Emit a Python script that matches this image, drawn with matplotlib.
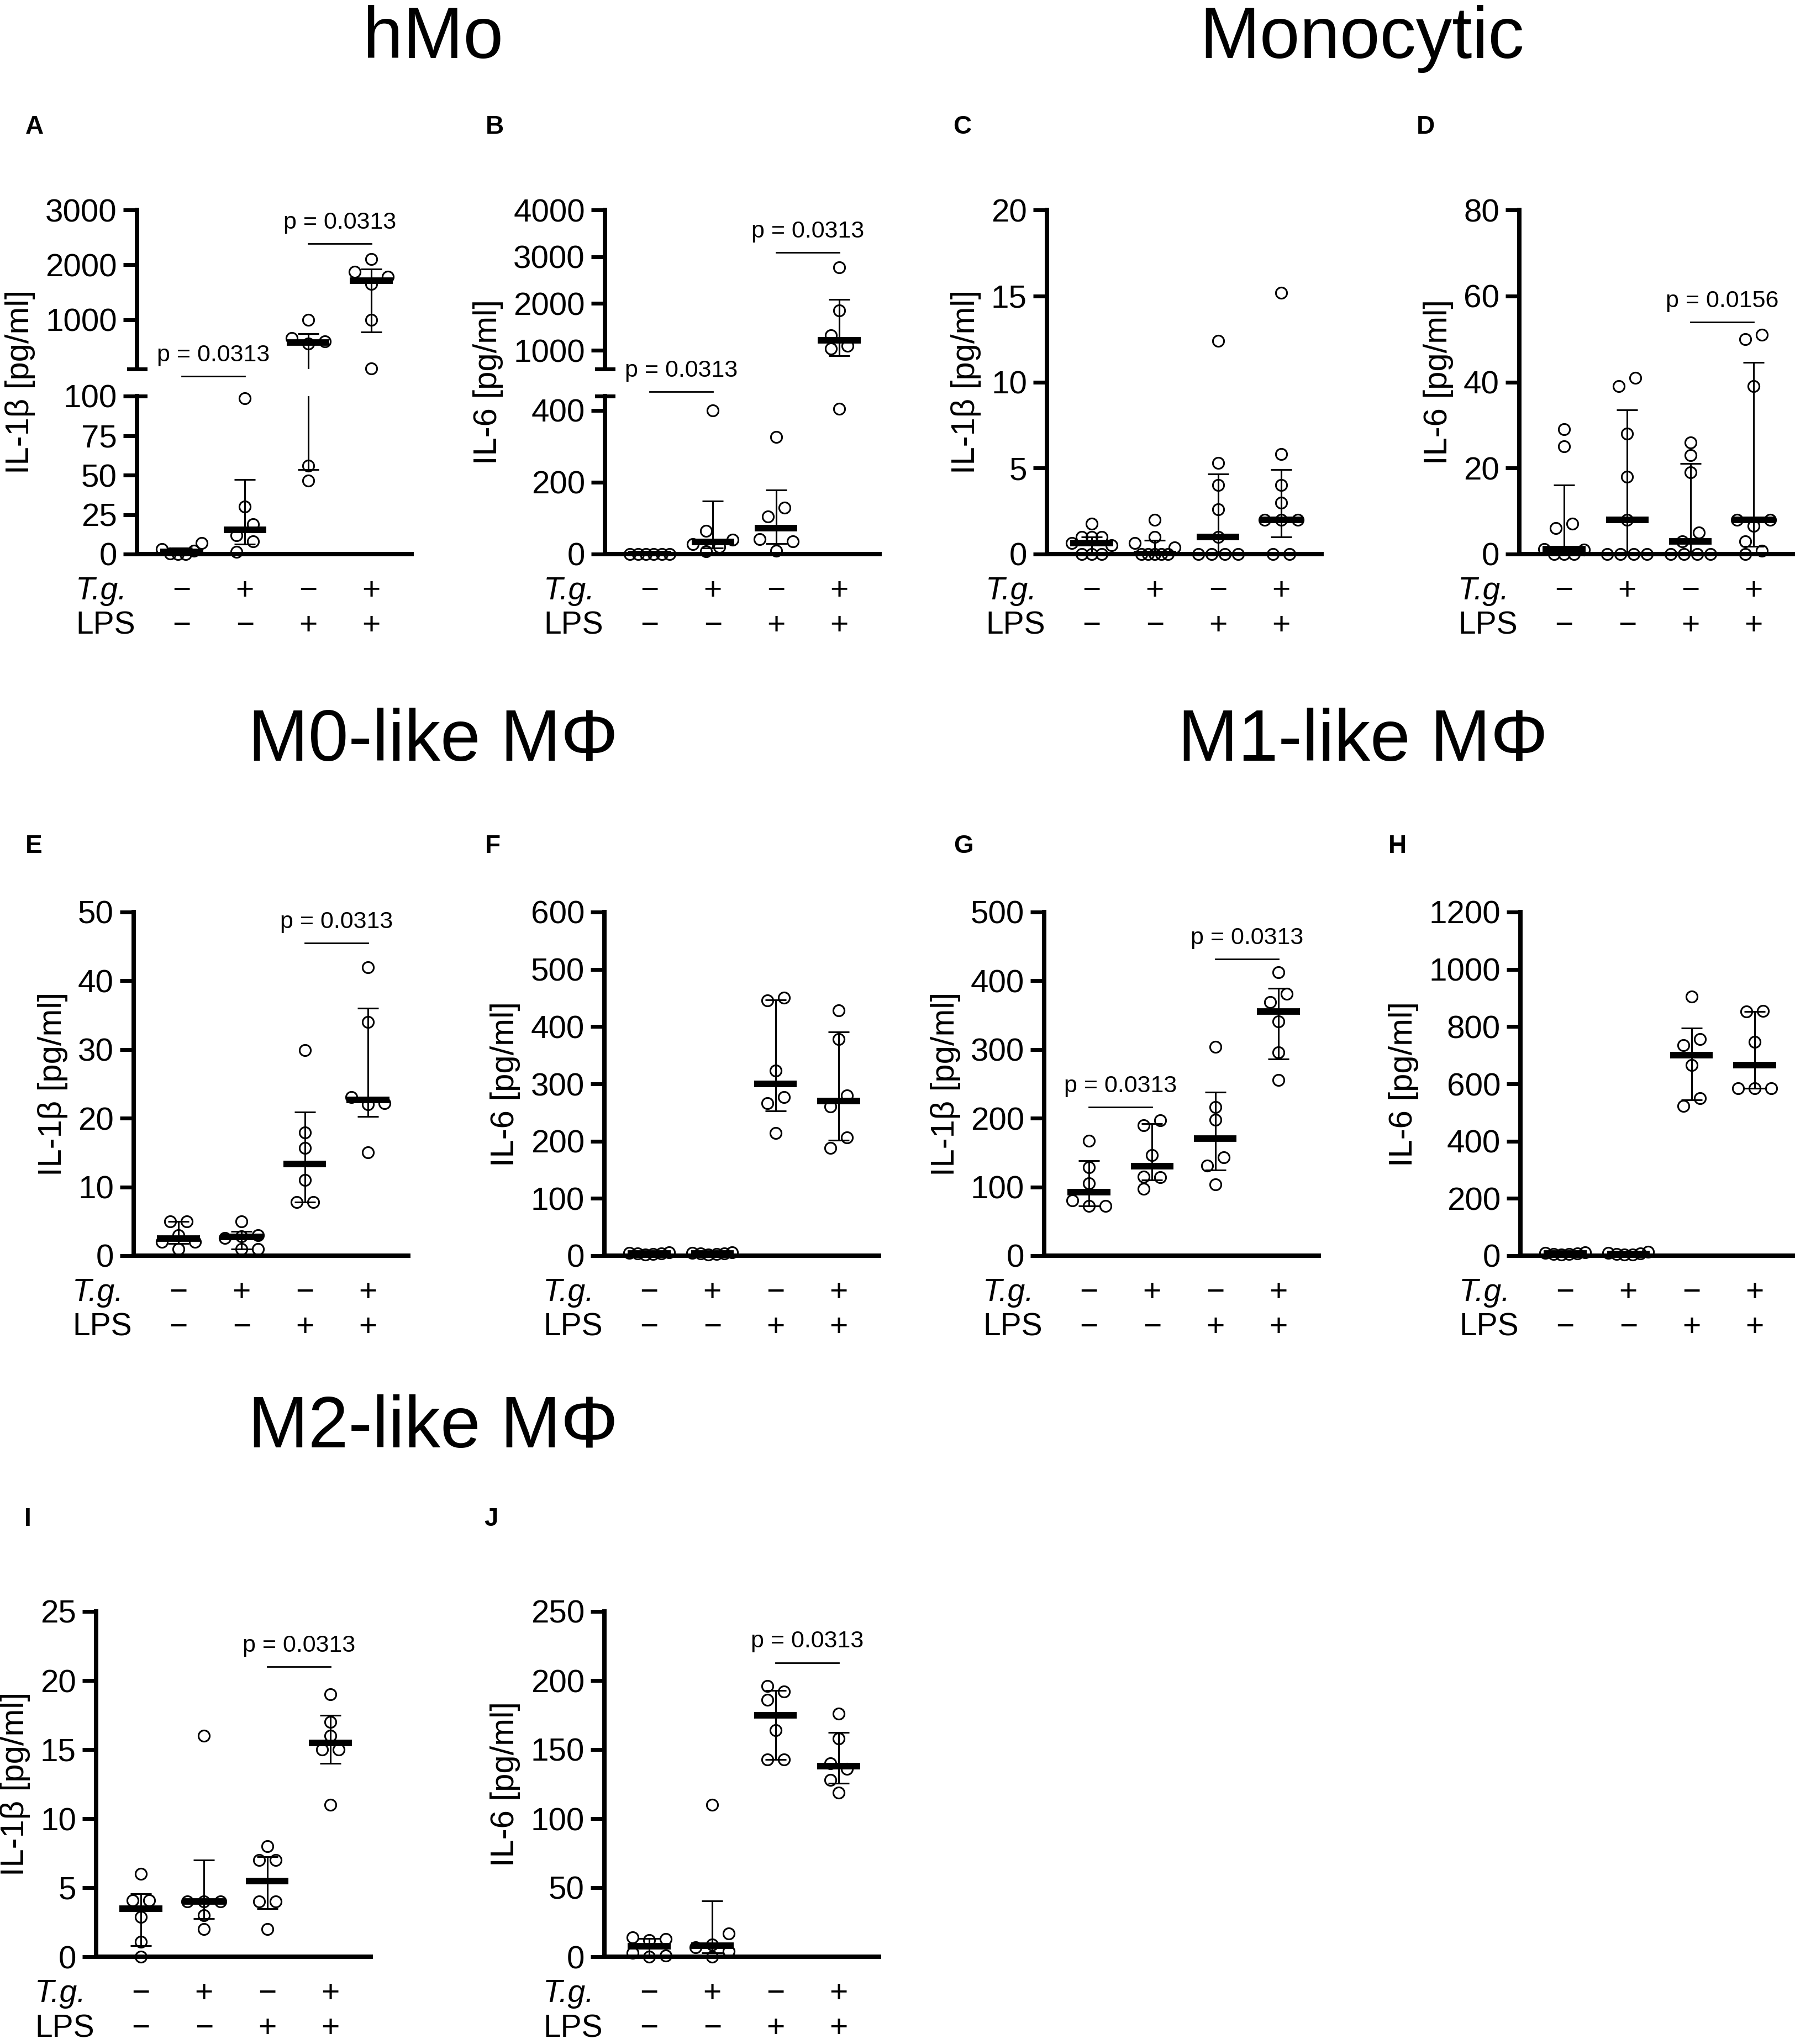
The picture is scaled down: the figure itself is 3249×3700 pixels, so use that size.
import numpy as np
import matplotlib.pyplot as plt
from matplotlib.transforms import offset_copy

plt.rcParams['font.family'] = ['Liberation Sans', 'DejaVu Sans']

# ---- data (pg/ml), groups: (-,-), (+,-), (-,+), (+,+) ----
tg_signs = ['−', '+', '−', '+']
lps_signs = ['−', '−', '+', '+']

hmo_il1b = [[0, 0, 0.5, 2, 3, 7],
            [98.6, 30, 19, 12, 8, 1.5],
            [1000, 660, 600, 565, 56, 46.5],
            [2100, 1870, 1780, 1650, 1000, 110]]
hmo_il6 = [[0, 0, 0, 0, 0, 0],
           [400, 64, 40, 28, 20, 7],
           [326, 130, 104, 41, 35, 10],
           [2772, 1852, 1325, 1100, 1040, 405]]
mono_il1b = [[1.77, 1.0, 1.0, 1.0, 0.65, 0.52, 0, 0, 0],
             [2.0, 0.98, 0.65, 0.4, 0, 0, 0, 0, 0],
             [12.4, 5.3, 4.0, 2.6, 1.0, 0, 0, 0, 0],
             [15.2, 5.8, 4.0, 3.0, 2.0, 2.0, 2.0, 0, 0]]
mono_il6 = [[29, 25, 7, 6, 1.2, 1, 0, 0, 0],
            [41, 39, 28, 18, 8, 0, 0, 0, 0],
            [26, 23, 19, 5, 3, 0, 0, 0, 0],
            [51, 50, 39, 8, 8, 6.6, 2.9, 0.8, 0]]
m0_il1b = [[5, 5, 3, 2, 2, 1],
           [5, 3, 2.8, 2.6, 1, 1],
           [29.9, 17.9, 15.7, 11, 7.8, 7.8],
           [42, 34, 23.1, 22.2, 22, 15]]
m0_il6 = [[6, 5, 4, 4, 3, 2],
          [6, 5, 4, 4, 3, 2],
          [450, 446, 323, 277, 266, 214],
          [428, 378, 280, 260, 206, 188]]
m1_il1b = [[167, 129, 105, 80, 72, 72],
           [197, 190, 146, 115, 114, 97],
           [304, 216, 198, 143, 131, 104],
           [412, 381, 369, 341, 296, 256]]
m1_il6 = [[12, 10, 8, 6, 5, 3],
          [14, 10, 8, 5, 4, 3],
          [905, 757, 735, 665, 550, 523],
          [855, 852, 747, 585, 585, 585]]
m2_il1b = [[6, 4.1, 4.1, 2.9, 1.07, 0],
           [16, 4, 4, 4, 3, 2],
           [8, 7, 7, 4, 4, 2],
           [19, 17, 16, 15, 15, 11]]
m2_il6 = [[14, 13, 12, 3, 1, 0],
          [110, 17, 9, 7, 4, 0],
          [196, 192, 186, 164, 143, 143],
          [176, 158, 140, 136, 128, 119]]

IL1B = 'IL-1β [pg/ml]'
IL6 = 'IL-6 [pg/ml]'
PTXT = 'p = 0.0313'

# panel setup: left edge (px), row, data, label, axis ranges, p-value bars (axis, g1, g2, y, text)
panels = [
    dict(letter='A', left=248, row=0, data=hmo_il1b, label=IL1B,
         lo=((0, 100), [0, 25, 50, 75, 100]), hi=((100, 3000), [1000, 2000, 3000]),
         sig=[('lo', 1, 2, 112.7, PTXT), ('hi', 3, 4, 2381, PTXT)]),
    dict(letter='B', left=1095, row=0, data=hmo_il6, label=IL6,
         lo=((0, 440), [0, 200, 400]), hi=((600, 4000), [1000, 2000, 3000, 4000]),
         sig=[('lo', 1, 2, 452, PTXT), ('hi', 3, 4, 3091, PTXT)]),
    dict(letter='C', left=1895, row=0, data=mono_il1b, label=IL1B,
         ylim=(0, 20), ticks=[0, 5, 10, 15, 20], sig=[]),
    dict(letter='D', left=2750, row=0, data=mono_il6, label=IL6,
         ylim=(0, 80), ticks=[0, 20, 40, 60, 80], sig=[('ax', 3, 4, 53.9, 'p = 0.0156')]),
    dict(letter='E', left=242, row=1, data=m0_il1b, label=IL1B,
         ylim=(0, 50), ticks=[0, 10, 20, 30, 40, 50], sig=[('ax', 3, 4, 45.5, PTXT)]),
    dict(letter='F', left=1094, row=1, data=m0_il6, label=IL6,
         ylim=(0, 600), ticks=[0, 100, 200, 300, 400, 500, 600], sig=[]),
    dict(letter='G', left=1890, row=1, data=m1_il1b, label=IL1B,
         ylim=(0, 500), ticks=[0, 100, 200, 300, 400, 500],
         sig=[('ax', 1, 2, 216, PTXT), ('ax', 3, 4, 432, PTXT)]),
    dict(letter='H', left=2752, row=1, data=m1_il6, label=IL6,
         ylim=(0, 1200), ticks=[0, 200, 400, 600, 800, 1000, 1200], sig=[]),
    dict(letter='I', left=174, row=2, data=m2_il1b, label=IL1B,
         ylim=(0, 25), ticks=[0, 5, 10, 15, 20, 25], sig=[('ax', 3, 4, 21, PTXT)]),
    dict(letter='J', left=1094, row=2, data=m2_il6, label=IL6,
         ylim=(0, 250), ticks=[0, 50, 100, 150, 200, 250], sig=[('ax', 3, 4, 213, PTXT)]),
]

letter_pos = {'A': (62, 225), 'B': (895, 225), 'C': (1742, 225), 'D': (2580, 225),
              'E': (61, 1527), 'F': (892, 1527), 'G': (1744, 1527), 'H': (2529, 1527),
              'I': (50, 2745), 'J': (889, 2745)}
titles = [('hMo', 784, 105), ('Monocytic', 2465, 105), ('M0-like MΦ', 784, 1377),
          ('M1-like MΦ', 2467, 1377), ('M2-like MΦ', 784, 2620)]
rows = [(380, 1003), (1651, 2273), (2917, 3542)]

W, H = 3249, 3700
PW = 497
fig = plt.figure(figsize=(W / 100, H / 100), dpi=100)


def make_ax(left, top, bottom):
    return fig.add_axes([left / W, 1 - bottom / H, PW / W, (bottom - top) / H])


def style(ax, ylim, ticks, bottom=True):
    ax.set_xlim(0.29, 4.64)
    ax.set_ylim(*ylim)
    ax.set_yticks(ticks)
    ax.set_xticks([])
    ax.spines['top'].set_visible(False)
    ax.spines['right'].set_visible(False)
    ax.spines['left'].set_linewidth(5.7)
    ax.spines['bottom'].set_linewidth(5.7)
    ax.spines['bottom'].set_visible(bottom)
    ax.tick_params(axis='y', length=18, width=5, labelsize=42, pad=8)
    ax.patch.set_visible(False)


def swarm_px(ys, step=30.0, diam=22.0, maxhalf=36.0):
    n = len(ys)
    order = np.argsort(ys, kind='stable')
    dx = np.zeros(n)
    placed = []
    for i in order:
        cands = [0.0]
        for k in range(1, 12):
            cands += [k * step, -k * step]
        for c in cands:
            if all(abs(ys[i] - ys[j]) >= diam or abs(c - dx[j]) >= step for j in placed):
                break
        dx[i] = c
        placed.append(i)
    # centre each vertically-touching cluster
    comps, cur = [], [order[0]]
    for a, b in zip(order[:-1], order[1:]):
        if ys[b] - ys[a] < diam:
            cur.append(b)
        else:
            comps.append(cur)
            cur = [b]
    comps.append(cur)
    for c in comps:
        c = np.array(c)
        lo, hi = dx[c].min(), dx[c].max()
        dx[c] -= (lo + hi) / 2
        half = (hi - lo) / 2
        if half > maxhalf:
            dx[c] *= maxhalf / half
    return dx


def cond_rows(ax):
    tr = ax.get_xaxis_transform()
    for i in range(4):
        ax.text(i + 1, 0, tg_signs[i], transform=offset_copy(tr, fig=fig, y=-59, units='points'),
                ha='center', va='baseline', fontsize=41)
        ax.text(i + 1, 0, lps_signs[i], transform=offset_copy(tr, fig=fig, y=-104.4, units='points'),
                ha='center', va='baseline', fontsize=41)
    ax.text(0, 0, 'T.g.', transform=offset_copy(ax.transAxes, fig=fig, x=-80, y=-59, units='points'),
            ha='left', va='baseline', fontsize=41, style='italic')
    ax.text(0, 0, 'LPS', transform=offset_copy(ax.transAxes, fig=fig, x=-80, y=-104.4, units='points'),
            ha='left', va='baseline', fontsize=41)


def sig_bar(ax, g1, g2, y, txt):
    ax.plot([g1, g2], [y, y], color='k', lw=2, clip_on=False)
    ax.annotate(txt, xy=((g1 + g2) / 2, y), xytext=(0, 19.5), textcoords='offset points',
                ha='center', va='baseline', fontsize=31, annotation_clip=False)


for p in panels:
    top, bot = rows[p['row']]
    if 'lo' in p:
        ax_hi = make_ax(p['left'], top, 668)
        ax_lo = make_ax(p['left'], 717, bot)
        style(ax_hi, *p['hi'], bottom=False)
        style(ax_lo, *p['lo'])
        for a, yy in ((ax_hi, 0), (ax_lo, 1)):
            a.plot([-0.03, 0.03], [yy, yy], transform=a.transAxes, color='k', lw=5, clip_on=False)
        axes = [ax_lo, ax_hi]
        split = p['lo'][0][1]
        main = ax_lo
        ax_lo.set_ylabel(p['label'], fontsize=43)
        ax_lo.yaxis.set_label_coords(-0.370, 1.089)
        named = {'lo': ax_lo, 'hi': ax_hi}
    else:
        ax = make_ax(p['left'], top, bot)
        style(ax, p['ylim'], p['ticks'])
        axes = [ax]
        split = None
        main = ax
        ax.set_ylabel(p['label'], fontsize=43, labelpad=13)
        named = {'ax': ax}

    unit_px = main.transData.transform((1, 0))[0] - main.transData.transform((0, 0))[0]
    for gi, vals in enumerate(p['data']):
        xc = gi + 1
        v = np.array(vals, dtype=float)
        med = np.median(v)
        q1, q3 = np.percentile(v, [25, 75], method='weibull')
        for a in axes:
            a.errorbar(xc, med, yerr=[[med - q1], [q3 - med]], fmt='none', ecolor='k',
                       elinewidth=2.2, capsize=13.5, capthick=2.2)
            a.plot([xc - 0.34, xc + 0.34], [med, med], color='k', lw=8.5, solid_capstyle='butt')
        owners = [ax_hi if (split is not None and val >= split) else main for val in v]
        ys = np.array([o.transData.transform((xc, val))[1] for o, val in zip(owners, v)])
        dx = swarm_px(ys) / unit_px
        for a in axes:
            m = np.array([o is a for o in owners])
            if m.any():
                a.plot(xc + dx[m], v[m], 'o', mfc='none', mec='k', ms=14.5, mew=2.2,
                       clip_on=False, zorder=3)

    for axname, g1, g2, y, txt in p['sig']:
        sig_bar(named[axname], g1, g2, y, txt)
    cond_rows(main)

    lx, ly = letter_pos[p['letter']]
    fig.text(lx / W, 1 - (ly + 17) / H, p['letter'], fontsize=33, fontweight='bold',
             ha='center', va='baseline')

for t, x, y in titles:
    fig.text(x / W, 1 - y / H, t, fontsize=94, ha='center', va='baseline')

fig.savefig('out.png', dpi=100)
